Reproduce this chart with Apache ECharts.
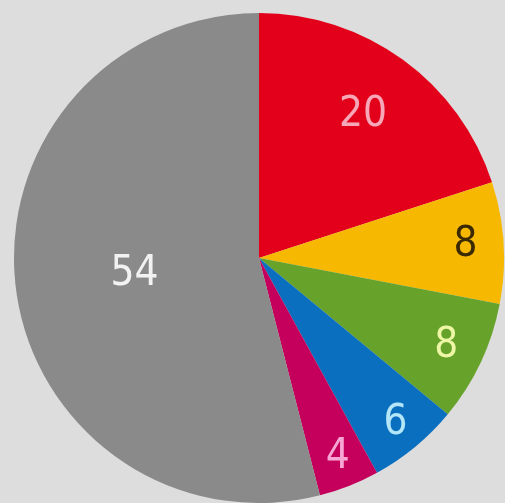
<!DOCTYPE html>
<html><head><meta charset="utf-8">
<script src="https://cdn.jsdelivr.net/npm/echarts@6/dist/echarts.min.js"></script>
<style>html,body{margin:0;padding:0;background:#dcdddc}#c{width:505px;height:503px}</style>
</head><body><div id="c"></div>
<script>
const categories = ['A','B','C','D','E','F'];
const values = [20, 8, 8, 6, 4, 54];
const labelTexts = ['20','8','8','6','4','54'];
const colors = ['#e3001b','#f6b800','#67a32b','#0b6fc0','#c4005c','#8a8a8a'];
const labelColors = ['#f7a8b8','#3b2a00','#eef7a6','#b3e6f7','#f7a6d3','#f2f2f2'];

const FONT = "'DejaVu Sans Condensed','Liberation Sans Narrow',sans-serif";
const center = [259, 258];

function mk(idxList, transparent) {
  return values.map((v, i) => ({
    name: categories[i],
    value: v,
    itemStyle: { color: transparent ? 'rgba(0,0,0,0)' : colors[i] },
    label: {
      show: idxList.includes(i),
      formatter: labelTexts[i],
      color: labelColors[i]
    }
  }));
}

const common = {
  type: 'pie', center: center, startAngle: 90, clockwise: true,
  animation: false, silent: true,
  labelLine: { show: false },
  label: { position: 'inside', fontFamily: FONT, fontSize: 42, fontWeight: 'normal' },
  emphasis: { disabled: true }
};

const chart = echarts.init(document.getElementById('c'), null, { renderer: 'canvas' });
chart.setOption({
  backgroundColor: '#dcdddc',
  series: [
    Object.assign({}, common, { radius: [0, 245], data: mk([5], false) }),
    Object.assign({}, common, { radius: [110, 238], data: mk([0], true) }),
    Object.assign({}, common, { radius: [170, 238], data: mk([1,2], true) }),
    Object.assign({}, common, { radius: [180, 242], data: mk([3,4], true) })
  ]
});
</script></body></html>
